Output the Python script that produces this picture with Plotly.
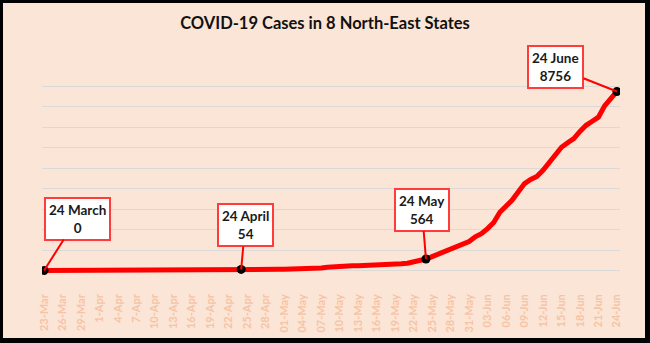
import plotly.graph_objects as go
import pandas as pd

# ---- data ----
dates = pd.date_range("2020-03-23", "2020-06-24").strftime("%Y-%m-%d").tolist()
cases = [0,
         0, 1, 1, 2, 2, 2, 2, 2,
         3, 8, 18, 22, 26, 28, 30, 31, 32, 33, 33, 34, 35, 36, 37, 38, 40, 42, 44, 46, 48, 50, 52,
         54,
         55, 56, 57, 58, 58, 60, 62, 65, 70, 80, 95, 110,
         130, 160, 190, 210,
         220, 230, 235, 240, 250, 260, 270, 285, 300, 330, 360, 420, 480,
         564,
         680, 800, 930, 1050, 1170, 1280, 1420,
         1650, 1800, 2050, 2350, 2850, 3150, 3450, 3850, 4250, 4450, 4600, 4900,
         5250, 5650, 6030, 6250, 6450, 6800, 7100, 7300, 7500, 8050, 8450, 8756]

tick_dates = dates[::3]
tick_labels = ["23-Mar", "26-Mar", "29-Mar", "1-Apr", "4-Apr", "7-Apr", "10-Apr", "13-Apr",
               "16-Apr", "19-Apr", "22-Apr", "25-Apr", "28-Apr", "01-May", "04-May", "07-May",
               "10-May", "13-May", "16-May", "19-May", "22-May", "25-May", "28-May", "31-May",
               "03-Jun", "06-Jun", "09-Jun", "12-Jun", "15-Jun", "18-Jun", "21-Jun", "24-Jun"]

key_idx = [0, 32, 62, 93]
key_labels = ["24 March", "24 April", "24 May", "24 June"]
key_values = ["0", "54", "564", "8756"]
# label box offsets (px) from the marked point
key_ax = [33, 4, -4, -61]
key_ay = [-52, -44, -49, -24]

PEACH = "#FBE5D6"
FONT = "Lato"

fig = go.Figure()
fig.add_trace(go.Scatter(
    x=dates, y=cases, mode="lines",
    line=dict(color="#FF0000", width=5),
    hoverinfo="skip", showlegend=False))
fig.add_trace(go.Scatter(
    x=[dates[i] for i in key_idx], y=[cases[i] for i in key_idx], mode="markers",
    marker=dict(color="black", size=9),
    hoverinfo="skip", showlegend=False))

for i, lab, val, ax, ay in zip(key_idx, key_labels, key_values, key_ax, key_ay):
    fig.add_annotation(
        x=dates[i], y=cases[i], text=f"{lab}<br>{val}",
        font=dict(family=FONT, size=13.5, color="#1a1a1a", weight="bold"),
        showarrow=True, arrowhead=0, arrowcolor="#FF0000", arrowwidth=2,
        ax=ax, ay=ay, bgcolor="white", bordercolor="#FF3B3B", borderwidth=2,
        borderpad=3, align="center")

# plot area in px: left 42, right 620, top 66, bottom 291
L, R, T, B = 42, 620, 66, 291
W, H = R - L, B - T
def px_x(X): return (X - L) / W
def px_y(Y): return (B - Y) / H

fig.add_shape(type="rect", xref="paper", yref="paper", layer="below",
              x0=px_x(3), x1=px_x(645), y0=px_y(338), y1=px_y(3),
              fillcolor=PEACH, line=dict(width=0))

fig.update_layout(
    width=650, height=343,
    margin=dict(l=L, r=650 - R, t=T, b=343 - B),
    paper_bgcolor="black", plot_bgcolor="rgba(0,0,0,0)",
    title=dict(text="COVID-19 Cases in 8 North-East States", x=0.5, xanchor="center",
               xref="container", y=1 - 23 / 343, yref="container", yanchor="middle",
               font=dict(family=FONT, size=16.5, color="#111111", weight="bold")),
    xaxis=dict(type="date", range=["2020-03-22 16:00", "2020-06-24 12:00"],
               tickvals=tick_dates, ticktext=tick_labels, tickangle=-90,
               tickfont=dict(family=FONT, size=11, color="#F7C3A3", weight="bold"),
               showgrid=False, zeroline=False, showline=False, ticks="",
               automargin=False),
    yaxis=dict(range=[-1000, 10000], dtick=1000, showticklabels=False,
               showgrid=True, gridcolor="#DCDAD8", gridwidth=1.2, zeroline=False,
               showline=False, ticks="", automargin=False),
)

fig.write_html("out.html")
